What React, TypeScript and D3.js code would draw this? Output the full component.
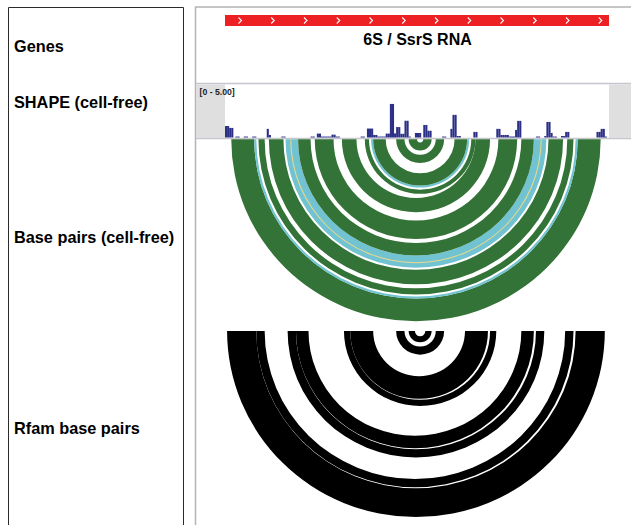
import React from "react";
import * as d3 from "d3";

// nucleotide span of the 6S RNA locus shown in the view
const ntRange: [number, number] = [0.5, 184.5];

const trackNames = ["Genes", "SHAPE (cell-free)", "Base pairs (cell-free)", "Rfam base pairs"];
const geneName = "6S / SsrS RNA";
const shapeRangeLabel = "[0 - 5.00]";
const shapeDomain: [number, number] = [0, 5];

// [nucleotide, SHAPE reactivity]
const shapeReactivity: [number, number][] = [
  [1, 1.1], [2, 1.1], [3, 0.92], [4, 0.92], [6, 0.1], [7, 0.1], [10, 0.1], [11, 0.1],
  [14, 0.1], [15, 0.1], [21, 0.83], [22, 0.25], [28, 0.1], [29, 0.1], [42, 0.1], [43, 0.1],
  [45, 0.38], [46, 0.38], [47, 0.1], [48, 0.1], [49, 0.1], [50, 0.1], [51, 0.1],
  [52, 0.28], [53, 0.28], [54, 0.1], [55, 0.1], [66, 0.1], [67, 0.1],
  [69, 0.86], [70, 0.86], [71, 0.86], [72, 0.25], [73, 0.25], [74, 0.1], [75, 0.1], [76, 0.1], [77, 0.1],
  [78, 0.38], [79, 0.38], [80, 3.2], [81, 3.2], [82, 0.4], [83, 1.0], [84, 1.0],
  [85, 0.36], [86, 0.36], [87, 1.6], [88, 1.6], [89, 0.1],
  [92, 0.44], [93, 0.44], [94, 0.44], [96, 1.2], [97, 1.2], [98, 0.65], [99, 0.65],
  [105, 0.1], [106, 0.1], [109, 0.83], [110, 2.16], [111, 2.16], [112, 0.15], [113, 0.15],
  [120, 0.54], [121, 0.54], [131, 0.83], [132, 0.83], [133, 0.25], [134, 0.25], [135, 0.25], [136, 0.25],
  [137, 0.1], [138, 0.1], [139, 0.1], [140, 0.73], [141, 1.59], [142, 1.59],
  [150, 0.1], [151, 0.1], [154, 0.15], [155, 1.49], [156, 1.49], [157, 0.44], [158, 0.1], [159, 0.1],
  [162, 0.15], [163, 0.15], [164, 0.54], [165, 0.54],
  [179, 0.54], [180, 0.54], [181, 0.83], [182, 0.83], [183, 0.1],
];

// helices: [5' nt, 3' nt, length, colour key]
const cellFreeHelices: [number, number, number, string][] = [
  [4, 180, 11, "green"],
  [15, 169, 1, "cyan"],
  [17, 167, 3, "green"],
  [22, 162, 7, "green"],
  [30, 154, 6, "cyan"],
  [36, 148, 6, "green"],
  [44, 140, 9, "green"],
  [57, 127, 7, "green"],
  [68, 120, 2, "green"],
  [71, 117, 1, "cyan"],
  [72, 116, 6, "green"],
  [83, 105, 4, "green"],
  [89, 99, 4, "green"],
];
// single weak pair drawn as a hairline
const cellFreeMinor: [number, number, number, string][] = [
  [32, 152, 1, "yellow"],
];

const rfamHelices: [number, number, number, string][] = [
  [2, 182, 14, "black"],
  [16, 167, 4, "black"],
  [31, 153, 4, "black"],
  [35, 148, 6, "black"],
  [58, 130, 3, "black"],
  [61, 126, 11, "black"],
  [83, 105, 4, "black"],
  [89, 99, 3, "black"],
];

const arcColors: Record<string, string> = {
  green: "#347337",
  cyan: "#72c3d1",
  yellow: "#e9d98c",
  black: "#000000",
};

const W = 631;
const H = 525;
const font = "'Liberation Sans', Arial, sans-serif";

// arcs are a touch flatter than round in the view
const squash = 0.985;

function Arcs({ helices, top, x, hairline = false }) {
  const step = x(2) - x(1);
  const band = d3.arc().startAngle(Math.PI / 2).endAngle((3 * Math.PI) / 2);
  return (
    <g>
      {helices.map(([i, j, len, c]) => {
        const cx = (x(i) + x(j)) / 2;
        const rOut = (x(j) - x(i)) / 2;
        const rIn = (x(j - len + 1) - x(i + len - 1)) / 2;
        const d = hairline
          ? band({ innerRadius: rOut - 0.5, outerRadius: rOut + 0.5 } as any)
          : band({ innerRadius: rIn - step / 2, outerRadius: rOut + step / 2 } as any);
        return (
          <path key={`${i}-${j}`} d={d} transform={`translate(${cx},${top}) scale(1,${squash})`}
            fill={arcColors[c]} />
        );
      })}
    </g>
  );
}

export default function App() {
  const x = d3.scaleLinear().domain(ntRange).range([225, 609]);
  const y = d3.scaleLinear().domain(shapeDomain).range([137.6, 85]);
  const step = x(2) - x(1);

  const chevrons = d3.range(0, 12).map((k) => 240 + k * 32.75);

  return (
    <svg width={W} height={H} style={{ position: "absolute", left: 0, top: 0, background: "#fff" }}>
      {/* name panel */}
      <path d={`M8.5,${H} V7.5 H183.5 V${H}`} fill="none" stroke="#2b2b2b" strokeWidth={1} />
      {trackNames.map((t, i) => (
        <text key={t} x={14} y={[51.5, 107.5, 243, 434][i]} fontFamily={font} fontWeight="bold"
          fontSize={16.3} fill="#000">{t}</text>
      ))}

      {/* data panel frame */}
      <path d={`M195.5,${H} V7 H${W}`} fill="none" stroke="#b4b4b8" strokeWidth={1.5} />

      {/* gene track */}
      <rect x={x(0.5)} y={15} width={x(184.5) - x(0.5)} height={11} fill="#ed2024" />
      {chevrons.map((cx) => (
        <path key={cx} d={`M${cx - 1.5},17.5 L${cx + 1.5},20.5 L${cx - 1.5},23.5`} fill="none"
          stroke="#fff" strokeWidth={1.1} />
      ))}
      <text x={417.5} y={44.5} textAnchor="middle" fontFamily={font} fontWeight="bold" fontSize={16}
        fill="#000">{geneName}</text>
      <line x1={196} x2={W} y1={83.5} y2={83.5} stroke="#c6c6ce" strokeWidth={1.6} />

      {/* SHAPE track */}
      <rect x={196} y={84.3} width={x(0.5) - 196} height={53.4} fill="#dfdfdf" />
      <rect x={x(184.5)} y={84.3} width={W - x(184.5)} height={53.4} fill="#dfdfdf" />
      <text x={199.5} y={94.5} fontFamily={font} fontWeight="bold" fontSize={8.7} fill="#222">
        {shapeRangeLabel}
      </text>
      {shapeReactivity.map(([nt, v]) => (
        <rect key={nt} x={x(nt - 0.5)} y={y(v)} width={step} height={y(0) - y(v)} fill="#2b2f86" />
      ))}
      <line x1={196} x2={W} y1={138.5} y2={138.5} stroke="#c6c6ce" strokeWidth={1.6} />

      {/* base pair arcs */}
      <Arcs helices={cellFreeHelices} top={139.3} x={x} />
      <Arcs helices={cellFreeMinor} top={139.3} x={x} hairline />
      <Arcs helices={rfamHelices} top={331} x={x} />
    </svg>
  );
}
